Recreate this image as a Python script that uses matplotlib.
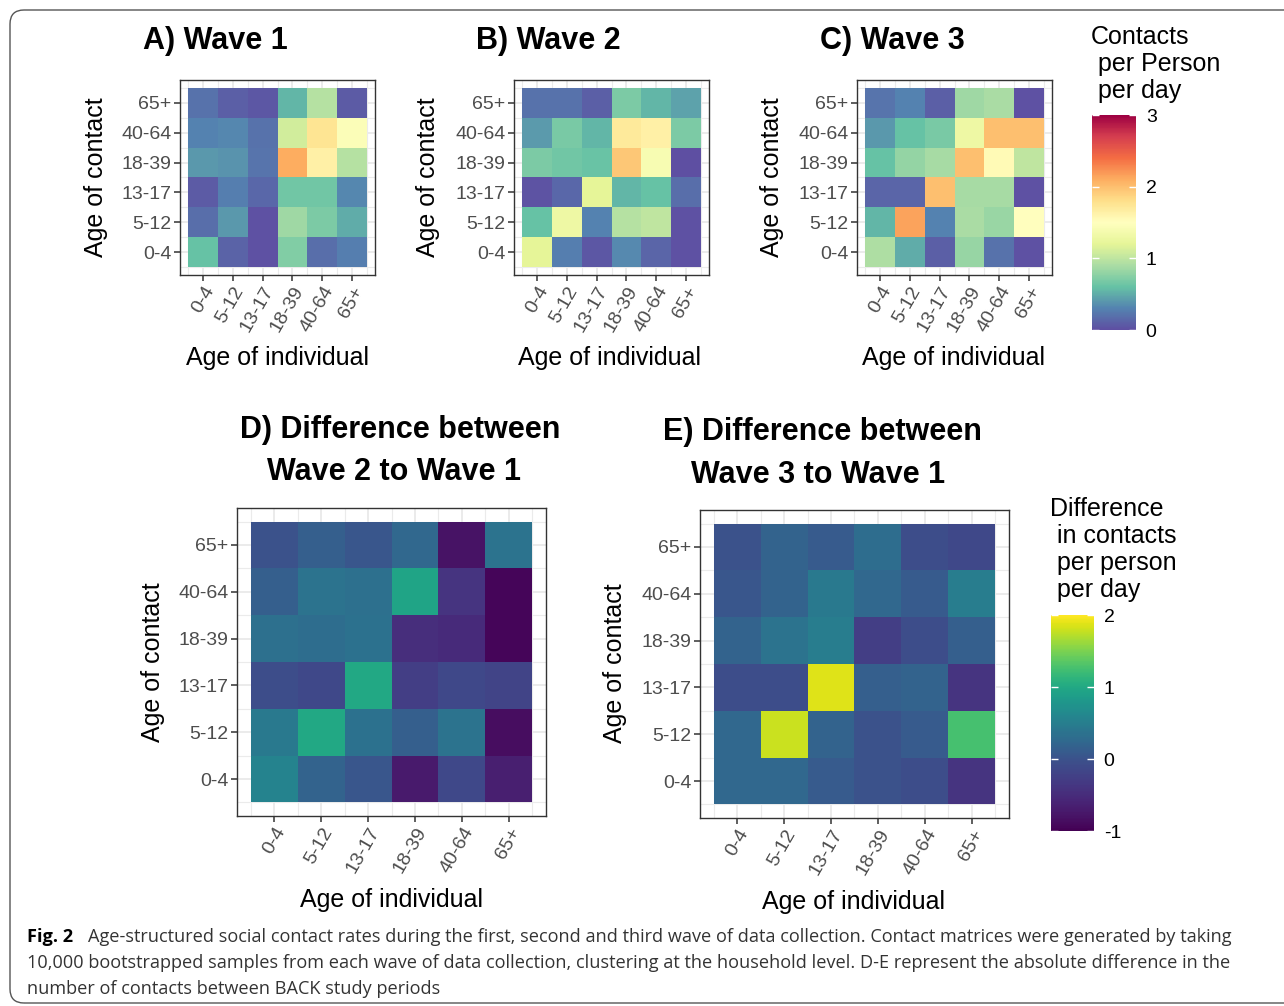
import numpy as np
import matplotlib
matplotlib.use("Agg")
import matplotlib.pyplot as plt
from matplotlib.colors import LinearSegmentedColormap
from matplotlib.patches import FancyBboxPatch

W, H = 1284, 1006

AGE_GROUPS = ["0-4", "5-12", "13-17", "18-39", "40-64", "65+"]

# rows: age of contact (0-4 first), columns: age of individual
WAVE1 = np.array([
    [0.60, 0.12, 0.02, 0.72, 0.18, 0.27],
    [0.18, 0.40, 0.02, 0.85, 0.70, 0.50],
    [0.08, 0.27, 0.15, 0.65, 0.65, 0.32],
    [0.40, 0.38, 0.22, 2.10, 1.65, 0.95],
    [0.30, 0.32, 0.20, 1.10, 1.75, 1.45],
    [0.20, 0.10, 0.05, 0.55, 0.95, 0.08],
])
WAVE2 = np.array([
    [1.20, 0.28, 0.05, 0.33, 0.14, 0.02],
    [0.60, 1.30, 0.30, 0.95, 1.00, 0.02],
    [0.03, 0.15, 1.20, 0.55, 0.60, 0.18],
    [0.70, 0.65, 0.62, 1.95, 1.40, 0.00],
    [0.42, 0.68, 0.55, 1.70, 1.65, 0.70],
    [0.20, 0.20, 0.10, 0.70, 0.55, 0.45],
])
WAVE3 = np.array([
    [0.92, 0.50, 0.10, 0.82, 0.20, 0.02],
    [0.55, 2.15, 0.30, 0.90, 0.83, 1.50],
    [0.14, 0.14, 2.00, 0.88, 0.88, 0.02],
    [0.60, 0.80, 0.88, 2.00, 1.55, 1.00],
    [0.40, 0.60, 0.68, 1.30, 2.00, 2.00],
    [0.22, 0.30, 0.10, 0.85, 0.90, 0.02],
])
DIFF_2_1 = np.array([
    [0.57, 0.19, 0.05, -0.73, -0.13, -0.67],
    [0.43, 1.00, 0.35, 0.14, 0.38, -0.87],
    [-0.07, -0.13, 1.00, -0.27, -0.13, -0.20],
    [0.33, 0.29, 0.35, -0.47, -0.53, -0.93],
    [0.14, 0.38, 0.33, 0.95, -0.40, -0.93],
    [0.00, 0.14, 0.05, 0.24, -0.80, 0.38],
])
DIFF_3_1 = np.array([
    [0.24, 0.24, 0.10, 0.00, -0.07, -0.40],
    [0.24, 1.79, 0.19, 0.00, 0.10, 1.25],
    [-0.07, -0.07, 1.88, 0.14, 0.19, -0.40],
    [0.19, 0.38, 0.48, -0.27, -0.07, 0.14],
    [0.05, 0.19, 0.43, 0.24, 0.10, 0.48],
    [0.00, 0.19, 0.10, 0.29, -0.07, -0.13],
])

CONTACT_TICKS = [0, 1, 2, 3]
DIFF_TICKS = [-1, 0, 1, 2]

CAPTION_LINES = [
    "Age-structured social contact rates during the first, second and third wave of data collection. Contact matrices were generated by taking",
    "10,000 bootstrapped samples from each wave of data collection, clustering at the household level. D-E represent the absolute difference in the",
    "number of contacts between BACK study periods",
]

plt.rcParams["font.family"] = ["Liberation Sans", "DejaVu Sans"]
plt.rcParams["axes.unicode_minus"] = False

# Spectral (reversed), with the blue toned down like the printed figure
SPECTRAL = LinearSegmentedColormap.from_list("spectral_ref", [
    "#5e4fa2", "#5483b0", "#66c2a5", "#abdda4", "#e6f598", "#ffffbf",
    "#fee08b", "#fdae61", "#f46d43", "#d53e4f", "#9e0142",
])
_vir = plt.get_cmap("viridis")
_t = np.linspace(0, 1, 256)
DIFF_CMAP = LinearSegmentedColormap.from_list(
    "viridis_ref", _vir(np.interp(_t, [0, 1 / 3, 2 / 3, 1], [0, 0.25, 0.6, 1]))
)


def rect(l, t, r, b):
    return [l / W, 1 - b / H, (r - l) / W, (b - t) / H]


def pt(x, y):
    return x / W, 1 - y / H


def draw_matrix(ax, values, cmap, vmin, vmax, pad):
    n = len(AGE_GROUPS)
    edges = np.arange(n + 1) - 0.5
    mesh = ax.pcolormesh(edges, edges, values, cmap=cmap, vmin=vmin, vmax=vmax,
                         linewidth=0, zorder=2)
    ax.set_xlim(-0.5 - pad, n - 0.5 + pad)
    ax.set_ylim(-0.5 - pad, n - 0.5 + pad)
    ax.set_xticks(range(n))
    ax.set_xticklabels(AGE_GROUPS, rotation=60, ha="right", va="top",
                       rotation_mode="anchor")
    ax.set_yticks(range(n))
    ax.set_yticklabels(AGE_GROUPS)
    ax.set_xticks(edges, minor=True)
    ax.set_yticks(edges, minor=True)
    ax.set_axisbelow(True)
    ax.grid(which="major", color="#ebebeb", lw=1.4)
    ax.grid(which="minor", color="#ebebeb", lw=0.8)
    ax.tick_params(which="minor", length=0)
    ax.tick_params(which="major", length=4, width=1.1, color="#333333",
                   labelsize=14, labelcolor="#4d4d4d", pad=2)
    for s in ax.spines.values():
        s.set_color("#333333")
        s.set_linewidth(1)
    return mesh


def add_colorbar(fig, mesh, box, ticks):
    cax = fig.add_axes(rect(*box))
    cb = fig.colorbar(mesh, cax=cax, ticks=ticks)
    cb.outline.set_visible(False)
    cax.tick_params(direction="in", length=5, width=1, color="white",
                    left=True, right=True, labelsize=14, labelcolor="black", pad=7)
    return cb


fig = plt.figure(figsize=(W / 100, H / 100), dpi=100)

frame = FancyBboxPatch((0.10, 0.03), 13.0, 9.93,
                       boxstyle="round,pad=0,rounding_size=0.14",
                       transform=fig.dpi_scale_trans, fill=False,
                       ec="#555555", lw=1)
fig.add_artist(frame)

top_panels = [
    (WAVE1, (180, 80, 375, 275), "A) Wave 1", 215, 96, 277),
    (WAVE2, (514, 80, 709, 275), "B) Wave 2", 548, 428, 609),
    (WAVE3, (857, 80, 1052, 275), "C) Wave 3", 892, 772, 953),
]
for values, box, title, tx, ylx, xlx in top_panels:
    ax = fig.add_axes(rect(*box))
    mesh = draw_matrix(ax, values, SPECTRAL, 0, 3, 0.27)
    fig.text(*pt(tx, 41), title, ha="center", va="center", fontsize=22,
             fontweight="bold")
    fig.text(*pt(ylx, 177), "Age of contact", ha="center", va="center",
             rotation=90, fontsize=18)
    fig.text(*pt(xlx, 358), "Age of individual", ha="center", va="center",
             fontsize=18)
add_colorbar(fig, mesh, (1092, 115, 1136, 330), CONTACT_TICKS)
for y, line in zip([37, 64, 91], ["Contacts", " per Person", " per day"]):
    fig.text(*pt(1091, y), line, ha="left", va="center", fontsize=18)

bottom_panels = [
    (DIFF_2_1, (237, 508, 546, 816), ["D) Difference between", "Wave 2 to Wave 1"],
     [(400, 430), (394, 472)], (153, 662), (392, 900)),
    (DIFF_3_1, (700, 510, 1009, 818), ["E) Difference between", "Wave 3 to Wave 1"],
     [(822, 432), (818, 475)], (615, 663), (854, 902)),
]
for values, box, titles, tpos, ypos, xpos in bottom_panels:
    ax = fig.add_axes(rect(*box))
    mesh = draw_matrix(ax, values, DIFF_CMAP, -1, 2, 0.29)
    for line, (tx, ty) in zip(titles, tpos):
        fig.text(*pt(tx, ty), line, ha="center", va="center", fontsize=22,
                 fontweight="bold")
    fig.text(*pt(*ypos), "Age of contact", ha="center", va="center",
             rotation=90, fontsize=18)
    fig.text(*pt(*xpos), "Age of individual", ha="center", va="center",
             fontsize=18)
add_colorbar(fig, mesh, (1051, 615, 1094, 831), DIFF_TICKS)
for y, line in zip([509, 536, 563, 590],
                   ["Difference", " in contacts", " per person", " per day"]):
    fig.text(*pt(1050, y), line, ha="left", va="center", fontsize=18)

# caption
CAP = dict(ha="left", va="center", fontsize=13.1, family="Open Sans")
fig.text(*pt(27, 937), "Fig. 2", fontweight="bold", **CAP)
fig.text(*pt(88, 937), CAPTION_LINES[0], color="#333333", **CAP)
fig.text(*pt(27, 963), CAPTION_LINES[1], color="#333333", **CAP)
fig.text(*pt(27, 989), CAPTION_LINES[2], color="#333333", **CAP)

fig.savefig("out.png", dpi=100)
